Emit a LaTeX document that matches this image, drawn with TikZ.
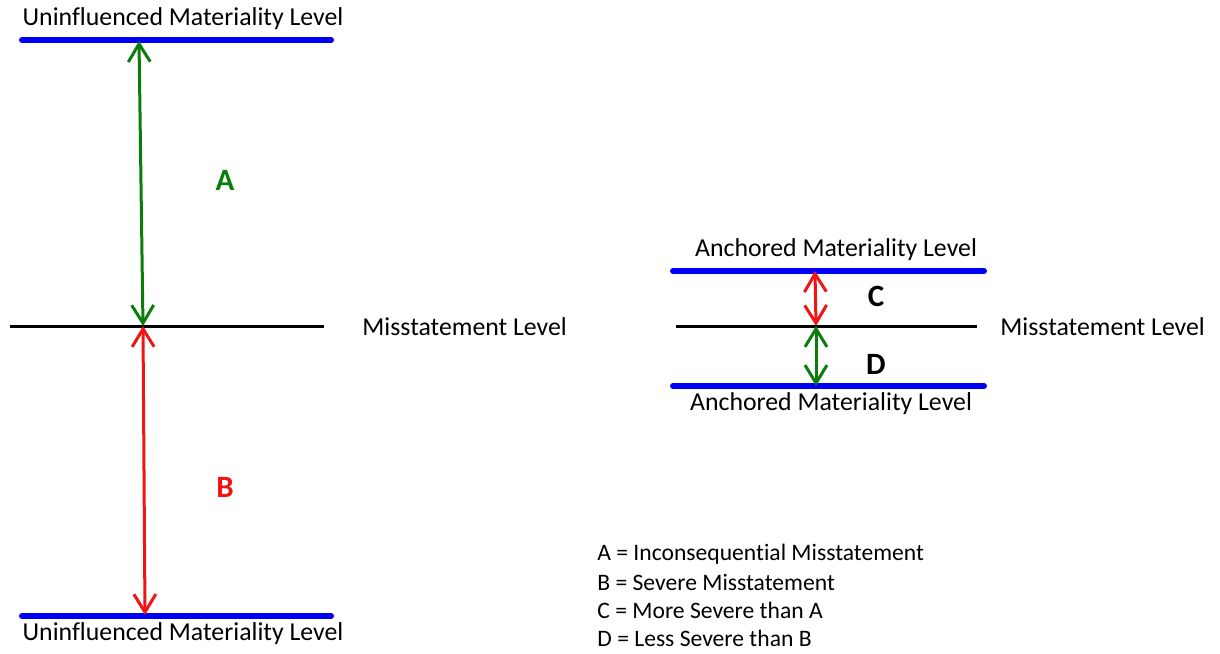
\documentclass[tikz,border=0pt]{standalone}
\usepackage{fontspec}
\setmainfont{Carlito}[Ligatures={NoCommon}]
\usetikzlibrary{arrows.meta}
\definecolor{lvlblue}{RGB}{0,0,245}
\definecolor{arrgreen}{RGB}{10,125,10}
\definecolor{arrred}{RGB}{240,20,20}
\begin{document}
\begin{tikzpicture}[x=0.5pt,y=-0.5pt,
  level/.style={line width=3pt,lvlblue,line cap=round},
  misline/.style={line width=1.5pt,black},
  gap/.style={line width=1.5pt,{Straight Barb[length=9pt,width=11pt,line width=1.5pt]}-{Straight Barb[length=9pt,width=11pt,line width=1.5pt]}},
  lbl/.style={font=\fontsize{12.9}{15}\selectfont,inner sep=0pt},
  letter/.style={font=\fontsize{15.5}{18}\selectfont\bfseries,inner sep=0pt},
  legend/.style={font=\fontsize{11.8}{14}\selectfont,inner sep=0pt,anchor=west}]
\useasboundingbox (0,0) rectangle (1220,653);

% left group: uninfluenced levels around the misstatement line
\draw[level] (22,40) -- (331,40);
\draw[misline] (10,326) -- (324,326);
\draw[level] (22,616) -- (331,616);
\node[lbl] (utop) at (183,19) {Uninfluenced Materiality Level};
\node[lbl] (ubot) at (183,634) {Uninfluenced Materiality Level};
\node[lbl,anchor=west] (mleft) at (362,327) {Misstatement Level};

\coordinate (ua) at (139,41);
\coordinate (um) at (143,326);
\coordinate (ub) at (145,615);
\draw[gap,arrgreen] (ua) -- (um);
\draw[gap,arrred] (um) -- (ub);
\node[letter,arrgreen] (la) at (225,180) {A};
\node[letter,arrred] (lb) at (225,487) {B};

% right group: anchored levels close to the misstatement line
\draw[level] (673,271) -- (984,271);
\draw[misline] (676,326) -- (977,326);
\draw[level] (673,386) -- (984,386);
\node[lbl] (atop) at (836,250) {Anchored Materiality Level};
\node[lbl] (abot) at (831,404) {Anchored Materiality Level};
\node[lbl,anchor=west] (mright) at (1000,327) {Misstatement Level};

\coordinate (aa) at (815,271);
\coordinate (am) at (816,326);
\coordinate (ab) at (816,386);
\draw[gap,arrred] (aa) -- (am);
\draw[gap,arrgreen] (am) -- (ab);
\node[letter] (lc) at (876,296) {C};
\node[letter] (ld) at (876,364) {D};

% legend
\node[legend] (k1) at (597,554) {A = Inconsequential Misstatement};
\node[legend] (k2) at (597,582) {B = Severe Misstatement};
\node[legend] (k3) at (597,610) {C = More Severe than A};
\node[legend] (k4) at (597,638) {D = Less Severe than B};
\end{tikzpicture}
\end{document}
